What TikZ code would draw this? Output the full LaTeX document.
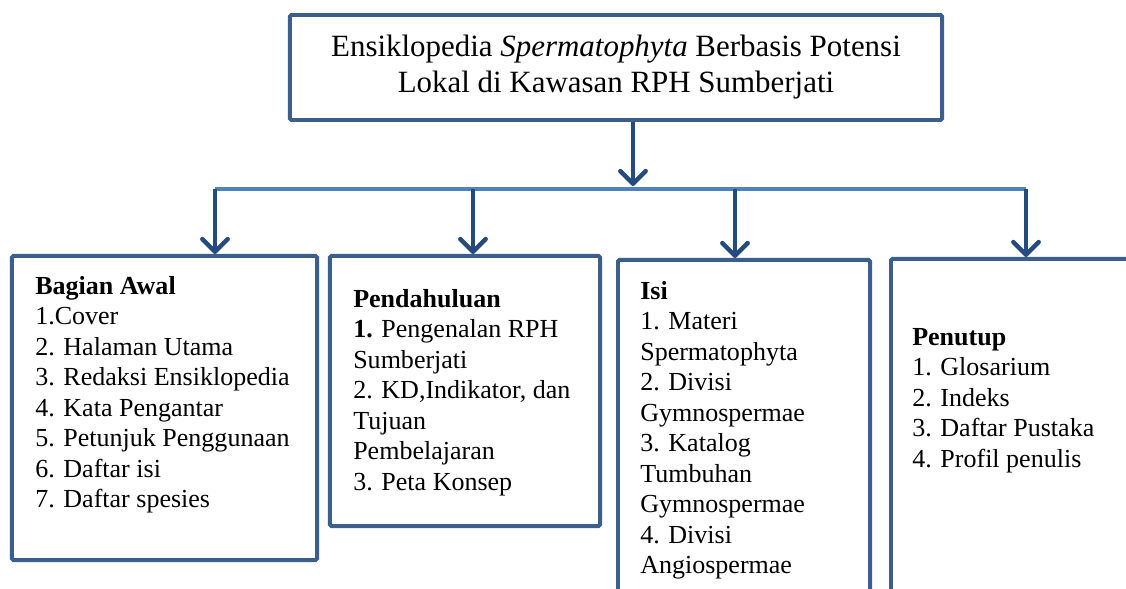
\documentclass[tikz,border=0pt]{standalone}
\usepackage{fontspec}
\setmainfont{Liberation Serif}
\usetikzlibrary{arrows.meta, positioning}

\definecolor{boxblue}{RGB}{59,94,141}
\definecolor{arrowblue}{RGB}{36,74,128}
\definecolor{busblue}{RGB}{79,129,189}

\tikzset{
  frame/.style={draw=boxblue, line width=2.8pt, fill=white, rounded corners=1pt, inner sep=0pt},
  listtext/.style={align=left, inner sep=0pt, anchor=north west, font=\fontsize{18.5}{21.7}\selectfont},
  down/.style={draw=arrowblue, line width=3.2pt, -{Straight Barb[length=9pt,width=18pt,round]}},
  bus/.style={draw=busblue, line width=3pt},
}

\begin{document}
\begin{tikzpicture}[x=0.025cm, y=-0.025cm]
\useasboundingbox (0,0) rectangle (1126,589);
\clip (0,0) rectangle (1126,589);

% Title box
\node[frame, minimum width=16.3cm, minimum height=2.625cm, align=center,
  font=\fontsize{22}{25.6}\selectfont] (title) at (616,67.5)
  {Ensiklopedia \textit{Spermatophyta} Berbasis Potensi\\Lokal di Kawasan RPH Sumberjati};

% Four part boxes
\node[frame, minimum width=7.625cm, minimum height=7.6cm] (awal) at (164.5,408) {};
\node[frame, minimum width=6.75cm, minimum height=6.75cm] (pendahuluan) at (465,391) {};
\node[frame, minimum width=6.3cm, minimum height=9.5cm] (isi) at (744,450) {};
\node[frame, minimum width=6.725cm, minimum height=9.525cm] (penutup) at (1025.5,449.5) {};

% Bus line and junctions
\coordinate (hub) at (633,186);
\coordinate (b1) at (215,189);
\coordinate (b2) at (473,189);
\coordinate (b3) at (735,189);
\coordinate (b4) at (1026,189);
\draw[bus] (b1) -- (b4);

% Arrows
\draw[down] (title.south -| hub) -- (hub);
\draw[down] (b1) -- (b1 |- awal.north);
\draw[down] (b2) -- (b2 |- pendahuluan.north);
\draw[down] (b3) -- (b3 |- isi.north);
\draw[down] (b4) -- (b4 |- penutup.north);

% Box contents
\node[listtext] (awaltext) at (35,276) {\textbf{Bagian Awal}\\1.Cover\\2. Halaman Utama\\3. Redaksi Ensiklopedia\\4. Kata Pengantar\\5. Petunjuk Penggunaan\\6. Daftar isi\\7. Daftar spesies};
\node[listtext] (pendahuluantext) at (353,289) {\textbf{Pendahuluan}\\\textbf{1.} Pengenalan RPH\\Sumberjati\\2. KD,Indikator, dan\\Tujuan\\Pembelajaran\\3. Peta Konsep};
\node[listtext] (isitext) at (640,281) {\textbf{Isi}\\1. Materi\\Spermatophyta\\2. Divisi\\Gymnospermae\\3. Katalog\\Tumbuhan\\Gymnospermae\\4. Divisi\\Angiospermae};
\node[listtext] (penutuptext) at (912,328) {\textbf{Penutup}\\1. Glosarium\\2. Indeks\\3. Daftar Pustaka\\4. Profil penulis};
\end{tikzpicture}
\end{document}
